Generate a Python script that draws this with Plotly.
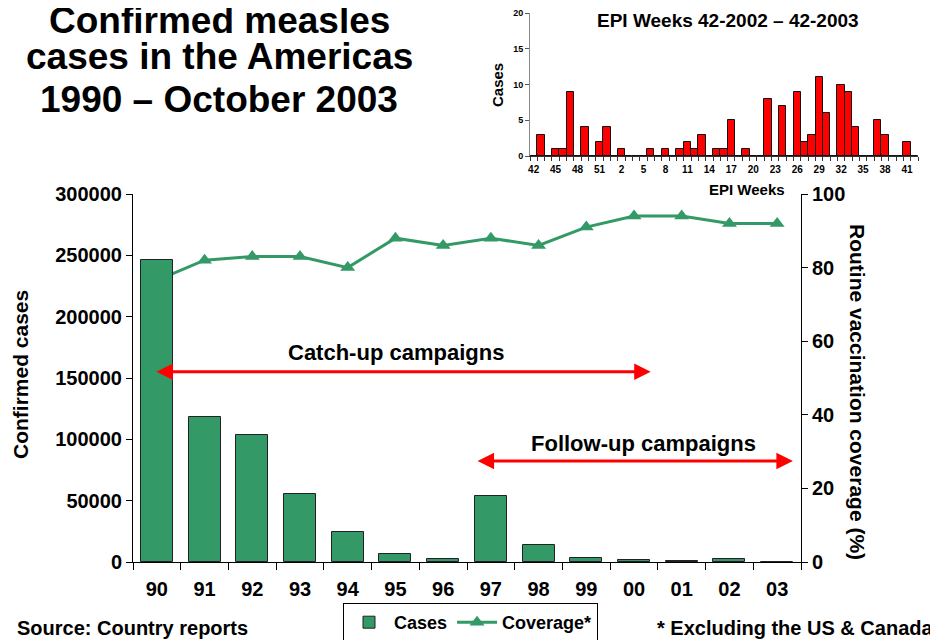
import plotly.graph_objects as go

# ---------------- data ----------------
years = ["90", "91", "92", "93", "94", "95", "96", "97", "98", "99", "00", "01", "02", "03"]
cases = [246000, 118500, 103500, 55700, 24700, 6800, 2700, 53600, 14100, 3500, 1800, 900, 2500, 119]
coverage = [76.5, 82, 83, 83, 80, 88, 86, 88, 86, 91, 94, 94, 92, 92]

epi_weeks = ["42", "43", "44", "45", "46", "47", "48", "49", "50", "51", "52",
             "1", "2", "3", "4", "5", "6", "7", "8", "9", "10", "11", "12", "13", "14",
             "15", "16", "17", "18", "19", "20", "21", "22", "23", "24", "25", "26",
             "27", "28", "29", "30", "31", "32", "33", "34", "35", "36", "37", "38",
             "39", "40", "41", "42"]
epi_cases = [0, 3, 0, 1, 1, 9, 0, 4, 0, 2, 4,
             0, 1, 0, 0, 0, 1, 0, 1, 0, 1, 2, 1, 3, 0,
             1, 1, 5, 0, 1, 0, 0, 8, 0, 7, 0, 9,
             2, 3, 11, 6, 0, 10, 9, 4, 0, 0, 5, 3,
             0, 0, 2, 0]

GREEN = "#339966"
RED = "#FF0000"
FONT = "Liberation Sans, Arial, sans-serif"

W, H = 938, 640
OFF = 8  # page body margin offset
def px(x):
    return (x - OFF) / W
def py(y):
    return 1 - (y - OFF) / H

fig = go.Figure()

# main bars (drawn on the overlaying axis so they sit above the line)
fig.add_trace(go.Bar(
    x=years, y=cases, name="Cases", xaxis="x", yaxis="y2", width=0.67,
    marker=dict(color=GREEN, line=dict(color="#222222", width=1)),
))
# coverage line
fig.add_trace(go.Scatter(
    x=years, y=coverage, name="Coverage*", xaxis="x", yaxis="y",
    mode="lines+markers",
    line=dict(color=GREEN, width=3),
    marker=dict(symbol="triangle-up", size=13, color=GREEN),
))
# inset bars
inset_x = list(range(len(epi_weeks)))
fig.add_trace(go.Bar(
    x=inset_x, y=epi_cases, xaxis="x2", yaxis="y3", width=1.0, showlegend=False,
    marker=dict(color=RED, line=dict(color="#111111", width=1)),
))

tickfont_main = dict(family=FONT, size=20, color="black", weight="bold")
tickfont_inset = dict(family=FONT, size=10, color="black", weight="bold")

inset_tickvals = inset_x[::3]
inset_ticktext = epi_weeks[::3]
inset_bounds = [i - 0.5 for i in range(len(epi_weeks) + 1)]

fig.update_layout(
    width=W, height=H,
    margin=dict(l=0, r=0, t=0, b=0, autoexpand=False),
    paper_bgcolor="white", plot_bgcolor="rgba(0,0,0,0)",
    font=dict(family=FONT, color="black"),
    xaxis=dict(
        domain=[px(133), px(801)], type="category", anchor="y", automargin=False,
        range=[-0.5, 13.5], tickson="boundaries", ticks="outside", ticklen=7,
        tickcolor="black", showline=True, linecolor="black", linewidth=1,
        showgrid=False, tickfont=tickfont_main, ticklabelstandoff=9,
    ),
    yaxis=dict(
        domain=[py(562), py(194)], anchor="x", side="right", range=[0, 100],
        dtick=20, ticks="outside", ticklen=6, tickcolor="black", automargin=False,
        showline=True, linecolor="black", linewidth=1, showgrid=False,
        zeroline=False, tickfont=tickfont_main,
    ),
    yaxis2=dict(
        overlaying="y", side="left", anchor="x", range=[0, 300000], automargin=False,
        dtick=50000, tickformat="d", ticks="outside", ticklen=6,
        tickcolor="black", showline=True, linecolor="black", linewidth=1,
        showgrid=False, zeroline=False, tickfont=tickfont_main,
    ),
    xaxis2=dict(
        domain=[px(530), px(918)], anchor="y3", range=[-0.5, len(epi_weeks) - 0.5],
        tickmode="array", tickvals=inset_tickvals, ticktext=inset_ticktext,
        ticks="", showline=True, linecolor="#333333", linewidth=1, automargin=False,
        showgrid=False, zeroline=False, tickfont=tickfont_inset,
        minor=dict(tickmode="array", tickvals=inset_bounds, ticks="outside",
                   ticklen=4, tickcolor="#333333", showgrid=False),
        ticklabelstandoff=4,
    ),
    yaxis3=dict(
        domain=[py(156), py(13)], anchor="x2", range=[0, 20], dtick=5, automargin=False,
        ticks="outside", ticklen=4, tickcolor="#555555",
        showline=True, linecolor="#888888", linewidth=1, showgrid=False,
        zeroline=False, tickfont=dict(family=FONT, size=9, color="black", weight="bold"),
    ),
    showlegend=True,
    legend=dict(
        orientation="h", x=px(343), y=py(603), xanchor="left", yanchor="top",
        bordercolor="black", borderwidth=1, bgcolor="white",
        font=dict(family=FONT, size=18, color="black", weight="bold"),
        traceorder="normal", itemwidth=40,
    ),
    bargap=0,
)

ann = []
def text(x, y, s, size, angle=0, xanchor="center"):
    ann.append(dict(x=px(x), y=py(y), xref="paper", yref="paper", text=s,
                    showarrow=False, textangle=angle, xanchor=xanchor, yanchor="middle",
                    font=dict(family=FONT, size=size, color="black", weight="bold")))

# title
text(219, 20, "Confirmed measles", 37)
text(219, 57, "cases in the Americas", 37)
text(219, 99, "1990 – October 2003", 37)
# inset labels
text(728, 20, "EPI Weeks 42-2002 – 42-2003", 19)
text(497, 85, "Cases", 15, angle=-90)
text(747, 189, "EPI Weeks", 15)
# axis titles
text(20, 375, "Confirmed cases", 21, angle=-90)
text(858, 392, "Routine vaccination coverage (%)", 21, angle=90)
# campaigns
text(396, 352, "Catch-up campaigns", 22)
text(643, 443, "Follow-up campaigns", 22)
# footnotes
text(15, 628, "Source: Country reports", 20, xanchor="left")
text(935, 628, "* Excluding the US & Canada", 20, xanchor="right")

# arrows (category index positions on the main x axis, case units on y2)
catchup_from, catchup_to, catchup_level = -0.04, 10.35, 155000
followup_from, followup_to, followup_level = 6.69, 13.33, 82300
for a, b, lvl in [(catchup_from, catchup_to, catchup_level),
                  (followup_from, followup_to, followup_level)]:
    ann.append(dict(x=b, y=lvl, ax=a, ay=lvl, xref="x", yref="y2",
                    axref="x", ayref="y2", text="", showarrow=True,
                    arrowhead=2, arrowside="end+start", arrowsize=1.1,
                    arrowwidth=3, arrowcolor=RED, standoff=0, startstandoff=0))

fig.update_layout(annotations=ann)
fig.write_html("out.html")
